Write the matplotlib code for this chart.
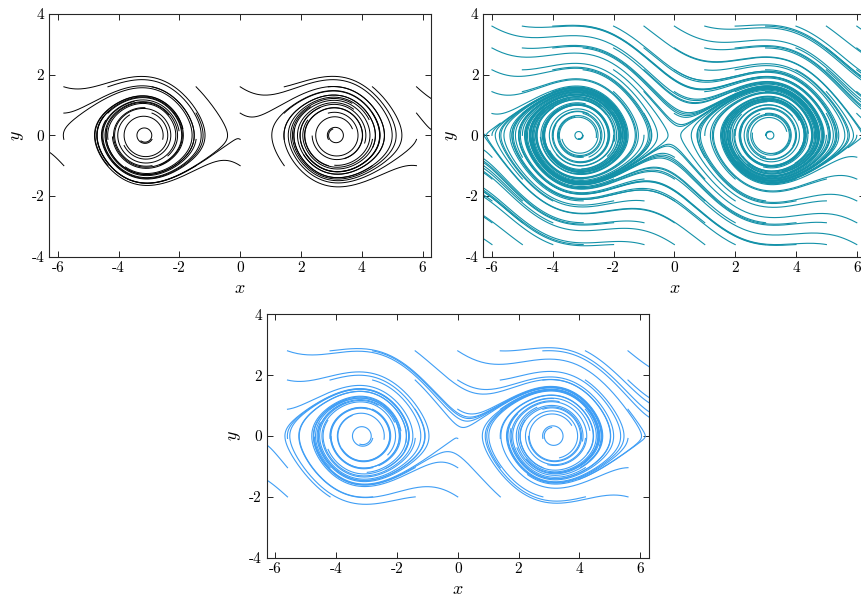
import numpy as np
import matplotlib.pyplot as plt

plt.rcParams['font.family'] = 'serif'
plt.rcParams['font.serif'] = ['cmr10']
plt.rcParams['mathtext.fontset'] = 'cm'
plt.rcParams['axes.unicode_minus'] = False

# pendulum about the upright position, damping that depends on the angle
damp_mean = 0.35
damp_swing = 0.3
x_lim = (-2*np.pi, 2*np.pi)
y_lim = (-4, 4)
x_ticks = [-6, -4, -2, 0, 2, 4, 6]
y_ticks = [-4, -2, 0, 2, 4]

# seed grids (x values, y values) for each panel
seeds_black = (np.linspace(-5.8, 5.8, 9), np.linspace(-1.0, 1.6, 4))
seeds_teal = (np.linspace(-6.0, 6.0, 13), np.linspace(-3.6, 3.6, 11))
seeds_blue = (np.linspace(-5.6, 5.6, 9), np.linspace(-2.0, 2.8, 6))
t_end = 8.0
dt = 0.03


def field(p):
    damp = damp_mean + damp_swing*np.cos(p[0])
    return np.array([p[1], np.sin(p[0]) - damp*p[1]])


def trajectory(x0, y0):
    p = np.array([x0, y0])
    pts = [p]
    for _ in range(int(t_end/dt)):
        k1 = field(p)
        k2 = field(p + dt/2*k1)
        k3 = field(p + dt/2*k2)
        k4 = field(p + dt*k3)
        p = p + dt/6*(k1 + 2*k2 + 2*k3 + k4)
        pts.append(p)
        if not (x_lim[0] <= p[0] <= x_lim[1] and y_lim[0] <= p[1] <= y_lim[1]):
            break
    return np.array(pts)


def draw(ax, seeds, color, lw):
    for x0 in seeds[0]:
        for y0 in seeds[1]:
            tr = trajectory(x0, y0)
            ax.plot(tr[:, 0], tr[:, 1], color=color, lw=lw)
    ax.set_xlim(*x_lim)
    ax.set_ylim(*y_lim)
    ax.set_xticks(x_ticks)
    ax.set_yticks(y_ticks)
    ax.tick_params(direction='in', top=True, right=True, labelsize=11, length=4, width=0.6)
    for s in ax.spines.values():
        s.set_linewidth(0.8)
        s.set_color('#262626')
    ax.set_xlabel('$x$', fontsize=13)
    ax.set_ylabel('$y$', fontsize=13)


fig = plt.figure(figsize=(8.61, 6.08), dpi=100)
ax1 = fig.add_axes([0.0571, 0.5778, 0.4437, 0.3992])
ax2 = fig.add_axes([0.5614, 0.5778, 0.4437, 0.3992])
ax3 = fig.add_axes([0.3098, 0.0827, 0.4437, 0.4003])

draw(ax1, seeds_black, 'black', 0.7)
draw(ax2, seeds_teal, '#1391a8', 0.8)
draw(ax3, seeds_blue, '#3f9ef5', 0.8)

fig.savefig('out.png')
